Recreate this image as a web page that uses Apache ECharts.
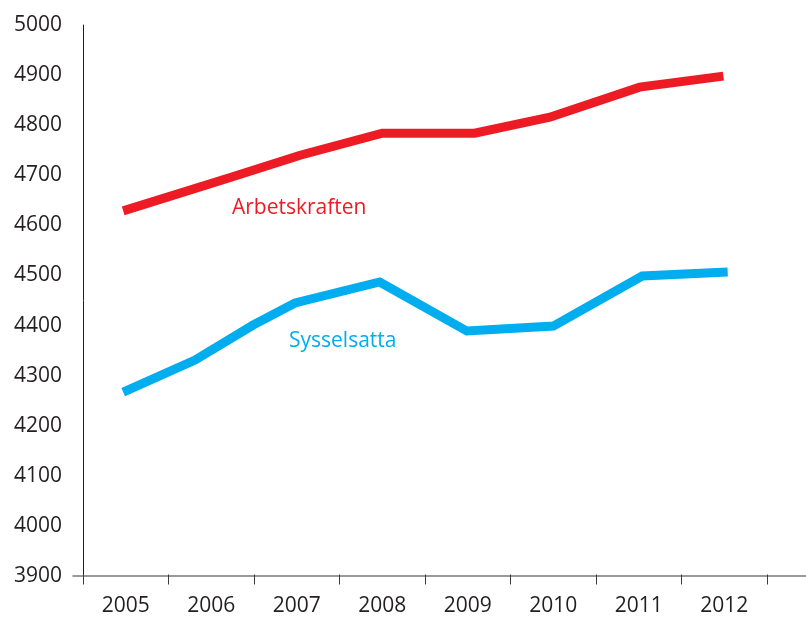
<!DOCTYPE html>
<html>
<head>
<meta charset="utf-8">
<script src="https://cdn.jsdelivr.net/npm/echarts@6/dist/echarts.min.js"></script>
<style>
html,body{margin:0;padding:0;background:#fff;}
#chart{width:806px;height:617px;}
</style>
</head>
<body>
<div id="chart"></div>
<script>
var years = ['2005','2006','2007','2008','2009','2010','2011','2012'];
var redX = [2005.47, 2006.75, 2007.54, 2008.50, 2009.58, 2010.46, 2011.51, 2012.49];
var redY = [4629, 4697, 4740, 4784, 4784, 4816, 4876, 4898];
var blueX = [2005.47, 2006.31, 2006.99, 2007.48, 2008.47, 2009.49, 2010.50, 2011.54, 2012.54];
var blueY = [4267, 4331, 4401, 4445, 4487, 4389, 4399, 4499, 4507];
var yMin = 3900, yMax = 5000, yStep = 100;
var redName = 'Arbetskraften';
var blueName = 'Sysselsatta';

function pairs(xs, ys){ return xs.map(function(x,i){ return [x, ys[i]]; }); }

var chart = echarts.init(document.getElementById('chart'), null, {renderer:'canvas'});
var FONT = '"Open Sans", "Noto Sans", sans-serif';
var TEXT = '#231f20';
var gTop = 25, gBottom = 41;

chart.setOption({
  animation: false,
  backgroundColor: '#fff',
  grid: [
    {left: 83, right: 0, top: gTop, bottom: gBottom},
    {left: 83, width: 684, top: gTop, bottom: gBottom},
    {left: 73, right: 0, top: gTop, bottom: gBottom}
  ],
  xAxis: [
    {type:'value', gridIndex:0, min:2005, max:2013.456, interval:1,
     axisLine:{show:false}, axisTick:{show:false}, axisLabel:{show:false}, splitLine:{show:false}},
    {type:'category', gridIndex:1, data: years, boundaryGap:true,
     axisLine:{show:false},
     axisTick:{show:true, length:10, inside:false, lineStyle:{color:'#3a3a3a', width:1}},
     axisLabel:{color:TEXT, fontSize:21, fontFamily:FONT, margin:24, lineHeight:16},
     splitLine:{show:false}},
    {type:'value', gridIndex:2, min:0, max:1,
     axisLine:{show:true, lineStyle:{color:'#7a7a7a', width:1.5}},
     axisTick:{show:false}, axisLabel:{show:false}, splitLine:{show:false}}
  ],
  yAxis: [
    {type:'value', gridIndex:0, min:yMin, max:yMax, interval:yStep,
     axisLine:{show:true, lineStyle:{color:TEXT, width:1}},
     axisTick:{show:false},
     axisLabel:{color:TEXT, fontSize:21, fontFamily:FONT, margin:21,
                formatter:function(v){ return String(v); }},
     splitLine:{show:false}},
    {type:'value', gridIndex:1, min:0, max:1, show:false},
    {type:'value', gridIndex:2, min:0, max:1, show:false}
  ],
  series: [
    {name: redName, type:'line', xAxisIndex:0, yAxisIndex:0, data: pairs(redX, redY),
     symbol:'none', lineStyle:{color:'#ed1c24', width:9, cap:'butt', join:'miter'}, z:5},
    {name: blueName, type:'line', xAxisIndex:0, yAxisIndex:0, data: pairs(blueX, blueY),
     symbol:'none', lineStyle:{color:'#00aeef', width:9, cap:'butt', join:'miter'}, z:5}
  ],
  graphic: [
    {type:'text', left: 232, top: 198, style:{text: redName, fill:'#ed1c24', font:'21px ' + FONT}},
    {type:'text', left: 289, top: 331, style:{text: blueName, fill:'#00aeef', font:'21px ' + FONT}}
  ]
});
</script>
</body>
</html>
